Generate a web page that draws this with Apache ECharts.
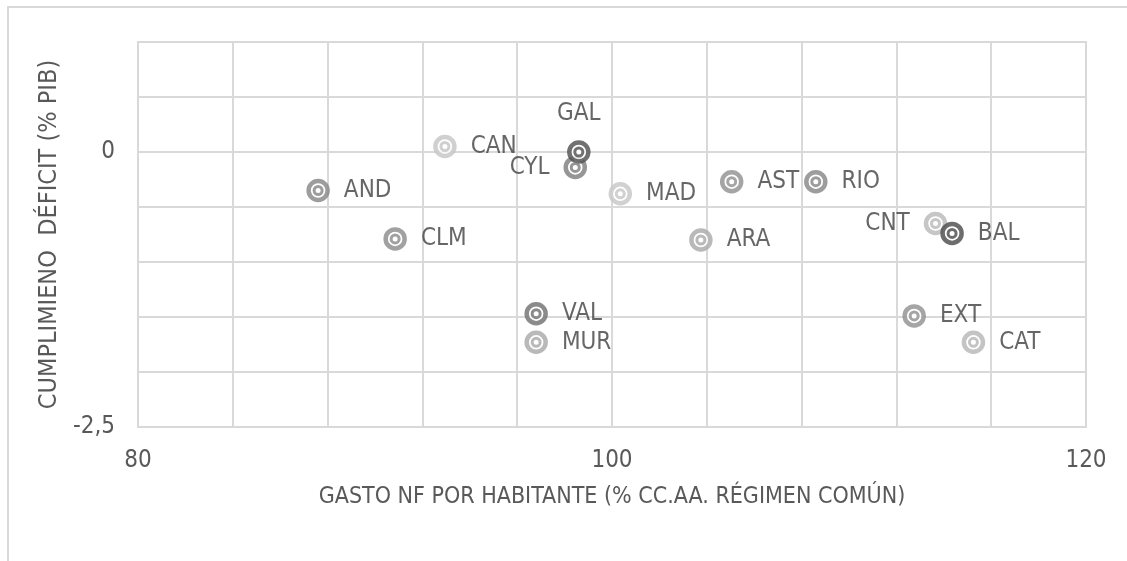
<!DOCTYPE html>
<html>
<head>
<meta charset="utf-8">
<script src="https://cdn.jsdelivr.net/npm/echarts@6/dist/echarts.min.js"></script>
<style>
html,body{margin:0;padding:0;background:#fff;}
#c{width:1127px;height:561px;}
</style>
</head>
<body>
<div id="c"></div>
<script>
const regions = ['AND','CLM','CAN','VAL','MUR','CYL','GAL','MAD','ARA','AST','RIO','CNT','BAL','EXT','CAT'];
const gastoHab = [87.6, 90.85, 92.95, 96.8, 96.8, 98.45, 98.6, 100.35, 103.75, 105.05, 108.6, 113.65, 114.35, 112.75, 115.25];
const deficit = [-0.35, -0.79, 0.05, -1.47, -1.73, -0.14, 0.0, -0.38, -0.80, -0.27, -0.27, -0.65, -0.74, -1.49, -1.73];
const pointColors = ['#858585','#8a8a8a','#c4c4c4','#6e6e6e','#a8a8a8','#7c7c7c','#4e4e4e','#c6c6c6','#a8a8a8','#8e8e8e','#858585','#b8b8b8','#484848','#8e8e8e','#b5b5b5'];
const labelPos = ['right','right','right','right','right','left','top','right','right','right','right','left','right','right','right'];
const xTickLabels = {80:'80',100:'100',120:'120'};
const yTickLabels = {'0':'0','-2.5':'-2,5'};

const FONT = "'Liberation Sans Narrow','DejaVu Sans Condensed','Liberation Sans',sans-serif";

const ringData = regions.map((r,i)=>({
  value:[gastoHab[i], deficit[i]],
  name:r,
  itemStyle:{color:'#ffffff', borderColor:pointColors[i], borderWidth:4.5},
  label:{position:labelPos[i]}
}));
const innerData = regions.map((r,i)=>({
  value:[gastoHab[i], deficit[i]],
  itemStyle:{color:'#ffffff', borderColor:pointColors[i], borderWidth:3}
}));

const chart = echarts.init(document.getElementById('c'), null, {renderer:'canvas'});
chart.setOption({
  animation:false,
  backgroundColor:'#ffffff',
  graphic:[{type:'rect', shape:{x:8,y:7,width:1200,height:700}, style:{fill:'none', stroke:'#d9d9d9', lineWidth:2}, silent:true, z:-1}],
  grid:{left:138, right:41, top:42, bottom:134, show:true, borderColor:'#d9d9d9', borderWidth:2},
  xAxis:{
    type:'value', min:80, max:120, interval:4,
    name:'GASTO NF POR HABITANTE (% CC.AA. RÉGIMEN COMÚN)',
    nameLocation:'middle', nameGap:59,
    nameTextStyle:{fontFamily:FONT, fontSize:23, color:'#595959'},
    axisLine:{show:false}, axisTick:{show:false},
    splitLine:{show:true, lineStyle:{color:'#d9d9d9', width:2}},
    axisLabel:{margin:22, fontFamily:FONT, fontSize:24, color:'#595959',
      formatter:v=> xTickLabels[Math.round(v)] || ''}
  },
  yAxis:{
    type:'value', min:-2.5, max:1, interval:0.5,
    name:'CUMPLIMIENO  DÉFICIT (% PIB)',
    nameLocation:'middle', nameGap:62, nameRotate:90,
    nameTextStyle:{fontFamily:FONT, fontSize:25, color:'#595959'},
    axisLine:{show:false}, axisTick:{show:false},
    splitLine:{show:true, lineStyle:{color:'#d9d9d9', width:2}},
    axisLabel:{margin:23, fontFamily:FONT, fontSize:24, color:'#595959',
      formatter:v=> yTickLabels[String(Math.round(v*10)/10)] || ''}
  },
  series:[
    {type:'scatter', symbol:'circle', symbolSize:19, data:ringData, z:2,
     label:{show:true, formatter:p=>p.name, distance:14, fontFamily:FONT, fontSize:24, color:'#404040'}},
    {type:'scatter', symbol:'circle', symbolSize:8, data:innerData, z:3}
  ]
});
</script>
</body>
</html>
